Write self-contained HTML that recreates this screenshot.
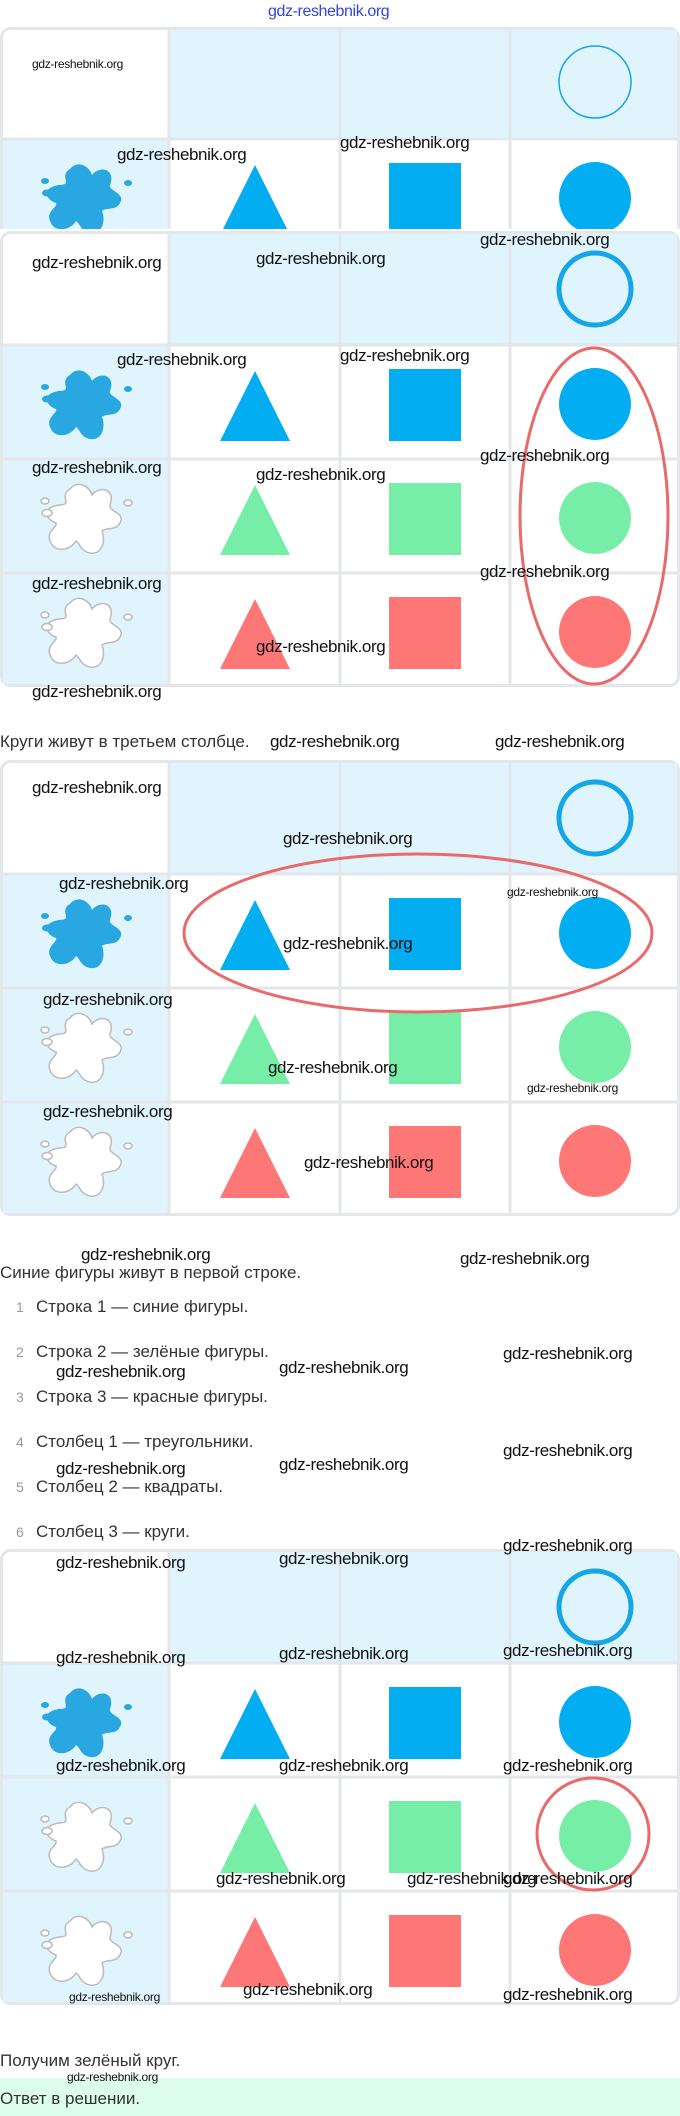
<!DOCTYPE html>
<html><head><meta charset="utf-8"><style>
body{margin:0;width:680px;height:2116px;position:relative;background:#fff;overflow:hidden;font-family:"Liberation Sans","DejaVu Sans",sans-serif}
svg{position:absolute;left:0}
.w{position:absolute;font-size:17px;color:#111;letter-spacing:-0.4px;white-space:nowrap;line-height:20px}
.s{font-size:12px;letter-spacing:-0.3px}
.t{position:absolute;left:0;font-size:17px;color:#333;white-space:nowrap;line-height:20px}
.n{position:absolute;left:16px;font-size:14px;color:#999;line-height:20px}
.li{position:absolute;left:36px;font-size:17px;color:#333;white-space:nowrap;line-height:20px}
</style></head><body>
<svg width="0" height="0" style="position:absolute">
<defs>
<g id="spl">
<path d="M30,10 C38,0 50,8 52,16 C60,6 76,10 70,26 C68,32 86,34 80,44 C76,52 66,48 62,52 C66,62 62,76 50,74 C40,72 40,64 36,62 C30,72 14,74 10,62 C6,52 18,48 16,44 C8,42 2,32 12,28 C20,24 26,28 26,22 C24,16 26,12 30,10 Z"/>
<ellipse cx="5" cy="22" rx="4" ry="3"/><ellipse cx="7" cy="34" rx="5" ry="3.5"/><ellipse cx="88" cy="24" rx="4" ry="3"/>
</g>
<g id="bg">
<rect x="1.5" y="1.5" width="677" height="453" rx="9" fill="#fff" stroke="#e3e6ea" stroke-width="3"/>
<rect x="169" y="3" width="508" height="111" fill="#e0f4fd"/>
<rect x="3" y="114" width="166" height="339" fill="#e0f4fd"/>
<g stroke="#e3e6ea" stroke-width="3"><line x1="169" y1="0" x2="169" y2="456"/><line x1="340" y1="0" x2="340" y2="456"/><line x1="510" y1="0" x2="510" y2="456"/>
<line x1="0" y1="114" x2="680" y2="114"/><line x1="0" y1="228" x2="680" y2="228"/><line x1="0" y1="342" x2="680" y2="342"/></g>
<circle cx="595" cy="58" r="36" fill="none" stroke="#14a6e6" stroke-width="5"/>
<use href="#spl" x="40" y="134" fill="#29a7e1"/>
<use href="#spl" x="40" y="248" fill="#fff" stroke="#bbb" stroke-width="1.5"/>
<use href="#spl" x="40" y="362" fill="#fff" stroke="#bbb" stroke-width="1.5"/>
<polygon points="255,140 290,210 220,210" fill="#02adf2"/><rect x="389" y="138" width="72" height="72" fill="#02adf2"/><circle cx="595" cy="173" r="36" fill="#02adf2"/>
<polygon points="255,254 290,324 220,324" fill="#77eea8"/><rect x="389" y="252" width="72" height="72" fill="#77eea8"/><circle cx="595" cy="287" r="36" fill="#77eea8"/>
<polygon points="255,368 290,438 220,438" fill="#fe7777"/><rect x="389" y="366" width="72" height="72" fill="#fe7777"/><circle cx="595" cy="401" r="36" fill="#fe7777"/>
</g>
</defs></svg>

<div class="w" style="left:268px;top:2px;color:#3344dd;font-size:16px">gdz-reshebnik.org</div>

<svg style="top:27px" width="680" height="202">
<rect x="1.5" y="1.5" width="677" height="230" rx="9" fill="#fff" stroke="#e3e6ea" stroke-width="3"/>
<rect x="169" y="3" width="508" height="109" fill="#e0f4fd"/>
<rect x="3" y="112" width="166" height="100" fill="#e0f4fd"/>
<g stroke="#e3e6ea" stroke-width="3"><line x1="169" y1="0" x2="169" y2="202"/><line x1="340" y1="0" x2="340" y2="202"/><line x1="510" y1="0" x2="510" y2="202"/><line x1="0" y1="112" x2="680" y2="112"/></g>
<circle cx="595" cy="55" r="36" fill="none" stroke="#14a6e6" stroke-width="1.5"/>
<use href="#spl" x="40" y="132" fill="#29a7e1"/>
<polygon points="255,138 290,208 220,208" fill="#02adf2"/><rect x="389" y="136" width="72" height="72" fill="#02adf2"/><circle cx="595" cy="171" r="36" fill="#02adf2"/>
</svg>

<svg style="top:231px" width="680" height="456"><use href="#bg"/>
<ellipse cx="594" cy="285" rx="74" ry="168" fill="none" stroke="#e86a6a" stroke-width="3"/></svg>

<div class="t" style="top:732px">Круги живут в третьем столбце.</div>

<svg style="top:760px" width="680" height="456"><use href="#bg"/>
<ellipse cx="418" cy="173" rx="234" ry="79" fill="none" stroke="#e86a6a" stroke-width="3"/></svg>

<div class="t" style="top:1263px">Синие фигуры живут в первой строке.</div>
<div class="n" style="top:1297px">1</div><div class="li" style="top:1297px">Строка 1 — синие фигуры.</div>
<div class="n" style="top:1342px">2</div><div class="li" style="top:1342px">Строка 2 — зелёные фигуры.</div>
<div class="n" style="top:1387px">3</div><div class="li" style="top:1387px">Строка 3 — красные фигуры.</div>
<div class="n" style="top:1432px">4</div><div class="li" style="top:1432px">Столбец 1 — треугольники.</div>
<div class="n" style="top:1477px">5</div><div class="li" style="top:1477px">Столбец 2 — квадраты.</div>
<div class="n" style="top:1522px">6</div><div class="li" style="top:1522px">Столбец 3 — круги.</div>

<svg style="top:1549px" width="680" height="456"><use href="#bg"/>
<circle cx="593" cy="285" r="56" fill="none" stroke="#e86a6a" stroke-width="3"/></svg>

<div class="t" style="top:2051px">Получим зелёный круг.</div>
<div style="position:absolute;left:0;top:2078px;width:680px;height:38px;background:#dcfde9"></div>
<div class="t" style="top:2089px;color:#333">Ответ в решении.</div>

<div class="w s" style="left:32px;top:54px">gdz-reshebnik.org</div>
<div class="w" style="left:117px;top:145px">gdz-reshebnik.org</div>
<div class="w" style="left:340px;top:133px">gdz-reshebnik.org</div>
<div class="w" style="left:32px;top:253px">gdz-reshebnik.org</div>
<div class="w" style="left:256px;top:249px">gdz-reshebnik.org</div>
<div class="w" style="left:480px;top:230px">gdz-reshebnik.org</div>
<div class="w" style="left:117px;top:350px">gdz-reshebnik.org</div>
<div class="w" style="left:340px;top:346px">gdz-reshebnik.org</div>
<div class="w" style="left:480px;top:446px">gdz-reshebnik.org</div>
<div class="w" style="left:32px;top:458px">gdz-reshebnik.org</div>
<div class="w" style="left:256px;top:465px">gdz-reshebnik.org</div>
<div class="w" style="left:480px;top:562px">gdz-reshebnik.org</div>
<div class="w" style="left:32px;top:574px">gdz-reshebnik.org</div>
<div class="w" style="left:256px;top:637px">gdz-reshebnik.org</div>
<div class="w" style="left:32px;top:682px">gdz-reshebnik.org</div>
<div class="w" style="left:270px;top:732px">gdz-reshebnik.org</div>
<div class="w" style="left:495px;top:732px">gdz-reshebnik.org</div>
<div class="w" style="left:32px;top:778px">gdz-reshebnik.org</div>
<div class="w" style="left:283px;top:829px">gdz-reshebnik.org</div>
<div class="w" style="left:59px;top:874px">gdz-reshebnik.org</div>
<div class="w s" style="left:507px;top:882px">gdz-reshebnik.org</div>
<div class="w" style="left:283px;top:934px">gdz-reshebnik.org</div>
<div class="w" style="left:43px;top:990px">gdz-reshebnik.org</div>
<div class="w" style="left:268px;top:1058px">gdz-reshebnik.org</div>
<div class="w s" style="left:527px;top:1078px">gdz-reshebnik.org</div>
<div class="w" style="left:43px;top:1102px">gdz-reshebnik.org</div>
<div class="w" style="left:304px;top:1153px">gdz-reshebnik.org</div>
<div class="w" style="left:81px;top:1245px">gdz-reshebnik.org</div>
<div class="w" style="left:460px;top:1249px">gdz-reshebnik.org</div>
<div class="w" style="left:503px;top:1344px">gdz-reshebnik.org</div>
<div class="w" style="left:56px;top:1362px">gdz-reshebnik.org</div>
<div class="w" style="left:279px;top:1358px">gdz-reshebnik.org</div>
<div class="w" style="left:503px;top:1441px">gdz-reshebnik.org</div>
<div class="w" style="left:56px;top:1459px">gdz-reshebnik.org</div>
<div class="w" style="left:279px;top:1455px">gdz-reshebnik.org</div>
<div class="w" style="left:503px;top:1536px">gdz-reshebnik.org</div>
<div class="w" style="left:56px;top:1553px">gdz-reshebnik.org</div>
<div class="w" style="left:279px;top:1549px">gdz-reshebnik.org</div>
<div class="w" style="left:56px;top:1648px">gdz-reshebnik.org</div>
<div class="w" style="left:279px;top:1644px">gdz-reshebnik.org</div>
<div class="w" style="left:503px;top:1641px">gdz-reshebnik.org</div>
<div class="w" style="left:56px;top:1756px">gdz-reshebnik.org</div>
<div class="w" style="left:279px;top:1756px">gdz-reshebnik.org</div>
<div class="w" style="left:503px;top:1756px">gdz-reshebnik.org</div>
<div class="w" style="left:216px;top:1869px">gdz-reshebnik.org</div>
<div class="w" style="left:407px;top:1869px">gdz-reshebnik.org</div>
<div class="w" style="left:503px;top:1869px">gdz-reshebnik.org</div>
<div class="w s" style="left:69px;top:1987px">gdz-reshebnik.org</div>
<div class="w" style="left:243px;top:1980px">gdz-reshebnik.org</div>
<div class="w" style="left:503px;top:1985px">gdz-reshebnik.org</div>
<div class="w s" style="left:67px;top:2067px">gdz-reshebnik.org</div>
</body></html>
